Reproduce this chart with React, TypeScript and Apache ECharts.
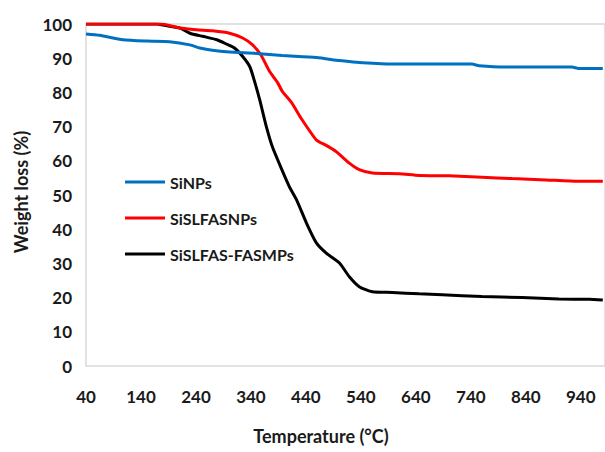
import React, { useEffect, useRef } from "react";
import * as echarts from "echarts";

// Temperature (°C) and weight (%)
const siNPsTemp = [40, 65, 107, 151, 192, 229, 247, 270, 301, 350, 397, 459, 501, 532, 592, 742, 755, 804, 924, 936, 980];
const siNPsWeight = [97.1, 96.7, 95.4, 95.0, 94.8, 93.9, 93.0, 92.3, 91.8, 91.4, 90.8, 90.2, 89.3, 88.8, 88.3, 88.3, 87.8, 87.4, 87.4, 87.0, 87.0];

const siSLFASNPsTemp = [40, 100, 178, 211, 241, 270, 301, 325, 343, 358, 374, 388, 397, 414, 431, 459, 477, 495, 519, 537, 561, 610, 646, 700, 760, 815, 877, 936, 980];
const siSLFASNPsWeight = [100, 100, 100, 98.8, 98.3, 98.0, 97.3, 95.9, 93.9, 91.0, 86.1, 83.0, 80.3, 77.0, 72.5, 66.1, 64.5, 62.7, 59.3, 57.4, 56.4, 56.2, 55.7, 55.6, 55.2, 54.8, 54.4, 54.0, 54.0];

const siSLFASFASMPsTemp = [40, 100, 169, 192, 211, 229, 252, 278, 296, 310, 325, 338, 347, 356, 368, 379, 396, 410, 423, 441, 459, 477, 501, 519, 537, 561, 597, 646, 688, 760, 833, 900, 955, 980];
const siSLFASFASMPsWeight = [100, 100, 100, 99.3, 98.8, 97.3, 96.4, 95.4, 94.1, 93.0, 90.5, 87.5, 83.0, 77.8, 70.0, 64.1, 57.5, 52.4, 48.6, 41.8, 36.0, 33.0, 30.1, 26.1, 23.2, 21.7, 21.5, 21.1, 20.8, 20.3, 20.0, 19.6, 19.5, 19.3];

const seriesNames = ["SiNPs", "SiSLFASNPs", "SiSLFAS-FASMPs"];
const seriesColors = ["#0070C0", "#FF0000", "#000000"];

const xAxisTitle = "Temperature (°C)";
const yAxisTitle = "Weight loss (%)";

const pair = (t: number[], w: number[]) => t.map((v, i) => [v, w[i]]);

const FONT = "Lato";

export default function App() {
  const ref = useRef<HTMLDivElement>(null);
  useEffect(() => {
    if (!ref.current) return;
    const chart = echarts.init(ref.current, null, { renderer: "svg" });
    const datasets = [
      pair(siNPsTemp, siNPsWeight),
      pair(siSLFASNPsTemp, siSLFASNPsWeight),
      pair(siSLFASFASMPsTemp, siSLFASFASMPsWeight),
    ];
    chart.setOption({
      animation: false,
      backgroundColor: "#ffffff",
      grid: {
        left: 86,
        top: 24,
        right: -1,
        bottom: 86,
        show: true,
        borderColor: "#d9d9d9",
        borderWidth: 1.5,
      },
      legend: {
        orient: "vertical",
        left: 125,
        top: 173,
        padding: 0,
        icon: "rect",
        itemWidth: 40,
        itemHeight: 3,
        itemGap: 18,
        data: seriesNames,
        textStyle: { fontFamily: FONT, fontWeight: "bold", fontSize: 16, color: "#1a1a1a", lineHeight: 18 },
      },
      xAxis: {
        type: "value",
        min: 40,
        max: 984,
        interval: 100,
        axisLine: { show: false },
        axisTick: { show: false },
        splitLine: { show: false },
        axisLabel: {
          showMaxLabel: false,
          margin: 22,
          fontFamily: FONT,
          fontWeight: "bold",
          fontSize: 17,
          color: "#1a1a1a",
        },
      },
      yAxis: {
        type: "value",
        min: 0,
        max: 100,
        interval: 10,
        axisLine: { show: false },
        axisTick: { show: false },
        splitLine: { show: false },
        axisLabel: {
          margin: 14,
          fontFamily: FONT,
          fontWeight: "bold",
          fontSize: 17,
          color: "#1a1a1a",
        },
      },
      graphic: [
        {
          type: "text",
          x: 321,
          y: 436,
          style: {
            text: xAxisTitle,
            align: "center",
            verticalAlign: "middle",
            fontFamily: FONT,
            fontWeight: "bold",
            fontSize: 18,
            fill: "#1a1a1a",
          },
        },
        {
          type: "text",
          x: 21,
          y: 192,
          rotation: Math.PI / 2,
          style: {
            text: yAxisTitle,
            align: "center",
            verticalAlign: "middle",
            fontFamily: FONT,
            fontWeight: "bold",
            fontSize: 18,
            fill: "#1a1a1a",
          },
        },
      ],
      series: datasets.map((d, i) => ({
        name: seriesNames[i],
        type: "line",
        data: d,
        symbol: "none",
        smooth: 0.2,
        color: seriesColors[i],
        lineStyle: { width: 3, color: seriesColors[i] },
        z: 3 - i,
      })),
    });
    return () => chart.dispose();
  }, []);
  return (
    <div
      ref={ref}
      style={{ position: "absolute", left: 0, top: 0, width: 605, height: 452 }}
    />
  );
}
